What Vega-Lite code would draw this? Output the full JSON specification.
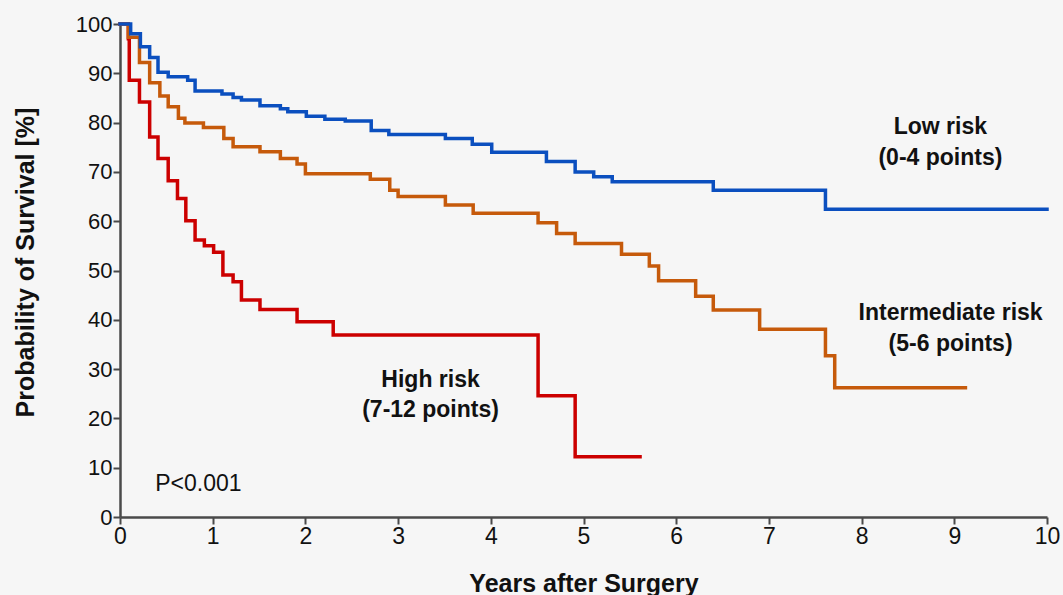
{
  "$schema": "https://vega.github.io/schema/vega-lite/v6.json",
  "width": 927,
  "height": 493,
  "autosize": {"type": "none"},
  "padding": {"left": 120, "top": 24, "right": 16, "bottom": 78},
  "background": "#f6f6f6",
  "config": {
    "view": {"stroke": null},
    "font": "Liberation Sans"
  },
  "datasets": {
    "curves": [
      {"group": "High", "t": 0, "s": 100},
      {"group": "High", "t": 0.09, "s": 97},
      {"group": "High", "t": 0.1, "s": 88.6},
      {"group": "High", "t": 0.21, "s": 84.2},
      {"group": "High", "t": 0.32, "s": 77.1},
      {"group": "High", "t": 0.41, "s": 72.7},
      {"group": "High", "t": 0.52, "s": 68.2},
      {"group": "High", "t": 0.62, "s": 64.6},
      {"group": "High", "t": 0.71, "s": 60.1},
      {"group": "High", "t": 0.81, "s": 56.2},
      {"group": "High", "t": 0.91, "s": 55.0},
      {"group": "High", "t": 1.01, "s": 53.7},
      {"group": "High", "t": 1.11, "s": 49.1},
      {"group": "High", "t": 1.22, "s": 47.7},
      {"group": "High", "t": 1.31, "s": 44.0},
      {"group": "High", "t": 1.51, "s": 42.1},
      {"group": "High", "t": 1.91, "s": 39.6},
      {"group": "High", "t": 2.30, "s": 36.9},
      {"group": "High", "t": 4.51, "s": 24.6},
      {"group": "High", "t": 4.91, "s": 12.2},
      {"group": "High", "t": 5.61, "s": 12.2},
      {"group": "Intermediate", "t": 0, "s": 100},
      {"group": "Intermediate", "t": 0.09, "s": 97.3},
      {"group": "Intermediate", "t": 0.21, "s": 92.2},
      {"group": "Intermediate", "t": 0.32, "s": 88.1},
      {"group": "Intermediate", "t": 0.43, "s": 85.4},
      {"group": "Intermediate", "t": 0.52, "s": 83.2},
      {"group": "Intermediate", "t": 0.63, "s": 80.9},
      {"group": "Intermediate", "t": 0.70, "s": 79.9},
      {"group": "Intermediate", "t": 0.90, "s": 79.0},
      {"group": "Intermediate", "t": 1.12, "s": 76.8},
      {"group": "Intermediate", "t": 1.22, "s": 75.1},
      {"group": "Intermediate", "t": 1.51, "s": 74.1},
      {"group": "Intermediate", "t": 1.73, "s": 72.7},
      {"group": "Intermediate", "t": 1.91, "s": 71.6},
      {"group": "Intermediate", "t": 2.0, "s": 69.6},
      {"group": "Intermediate", "t": 2.70, "s": 68.5},
      {"group": "Intermediate", "t": 2.91, "s": 66.3},
      {"group": "Intermediate", "t": 3.0, "s": 65.0},
      {"group": "Intermediate", "t": 3.51, "s": 63.3},
      {"group": "Intermediate", "t": 3.81, "s": 61.6},
      {"group": "Intermediate", "t": 4.51, "s": 59.7},
      {"group": "Intermediate", "t": 4.71, "s": 57.5},
      {"group": "Intermediate", "t": 4.91, "s": 55.5},
      {"group": "Intermediate", "t": 5.41, "s": 53.3},
      {"group": "Intermediate", "t": 5.71, "s": 50.9},
      {"group": "Intermediate", "t": 5.81, "s": 47.9},
      {"group": "Intermediate", "t": 6.21, "s": 44.8},
      {"group": "Intermediate", "t": 6.40, "s": 42.0},
      {"group": "Intermediate", "t": 6.90, "s": 38.1},
      {"group": "Intermediate", "t": 7.61, "s": 32.7},
      {"group": "Intermediate", "t": 7.71, "s": 26.2},
      {"group": "Intermediate", "t": 9.12, "s": 26.2},
      {"group": "Low", "t": 0, "s": 100},
      {"group": "Low", "t": 0.115, "s": 98.0},
      {"group": "Low", "t": 0.22, "s": 95.4},
      {"group": "Low", "t": 0.32, "s": 93.2},
      {"group": "Low", "t": 0.41, "s": 90.2},
      {"group": "Low", "t": 0.52, "s": 89.3},
      {"group": "Low", "t": 0.73, "s": 88.6},
      {"group": "Low", "t": 0.81, "s": 86.4},
      {"group": "Low", "t": 1.10, "s": 85.8},
      {"group": "Low", "t": 1.22, "s": 85.1},
      {"group": "Low", "t": 1.31, "s": 84.6},
      {"group": "Low", "t": 1.51, "s": 83.4},
      {"group": "Low", "t": 1.73, "s": 82.8},
      {"group": "Low", "t": 1.81, "s": 82.2},
      {"group": "Low", "t": 2.01, "s": 81.3},
      {"group": "Low", "t": 2.21, "s": 80.7},
      {"group": "Low", "t": 2.43, "s": 80.3},
      {"group": "Low", "t": 2.71, "s": 78.4},
      {"group": "Low", "t": 2.90, "s": 77.6},
      {"group": "Low", "t": 3.51, "s": 76.8},
      {"group": "Low", "t": 3.80, "s": 75.6},
      {"group": "Low", "t": 4.01, "s": 74.0},
      {"group": "Low", "t": 4.60, "s": 72.1},
      {"group": "Low", "t": 4.91, "s": 70.0},
      {"group": "Low", "t": 5.11, "s": 69.0},
      {"group": "Low", "t": 5.31, "s": 68.0},
      {"group": "Low", "t": 6.40, "s": 66.3},
      {"group": "Low", "t": 7.61, "s": 62.4},
      {"group": "Low", "t": 10, "s": 62.4}
    ],
    "labels": [
      {"label": "Low risk", "t": 8.85, "s": 79.1},
      {"label": "(0-4 points)", "t": 8.85, "s": 72.8},
      {"label": "Intermediate risk", "t": 8.96, "s": 41.4},
      {"label": "(5-6 points)", "t": 8.96, "s": 35.1},
      {"label": "High risk", "t": 3.35, "s": 27.8},
      {"label": "(7-12 points)", "t": 3.35, "s": 21.7}
    ],
    "pval": [
      {"label": "P<0.001", "t": 0.38, "s": 6.7}
    ]
  },
  "layer": [
    {
      "data": {"name": "curves"},
      "mark": {"type": "line", "interpolate": "step-after", "strokeWidth": 3.5, "strokeCap": "square"},
      "encoding": {
        "x": {
          "field": "t", "type": "quantitative",
          "scale": {"domain": [0, 10], "nice": false, "zero": false},
          "axis": {
            "title": "Years after Surgery",
            "values": [0, 1, 2, 3, 4, 5, 6, 7, 8, 9, 10],
            "format": "d",
            "grid": false,
            "domainColor": "#4a4a4a", "domainWidth": 2.5,
            "tickColor": "#4a4a4a", "tickWidth": 2, "tickSize": 7,
            "labelFontSize": 23, "labelColor": "#111", "labelPadding": 1,
            "labelFlush": false,
            "titleFontSize": 25, "titleFontWeight": "bold", "titleColor": "#111",
            "titleY": 66, "titleBaseline": "middle"
          }
        },
        "y": {
          "field": "s", "type": "quantitative",
          "scale": {"domain": [0, 100], "nice": false},
          "axis": {
            "title": "Probability of Survival [%]",
            "values": [0, 10, 20, 30, 40, 50, 60, 70, 80, 90, 100],
            "format": "d",
            "grid": false,
            "domainColor": "#4a4a4a", "domainWidth": 2.5,
            "tickColor": "#4a4a4a", "tickWidth": 2, "tickSize": 7,
            "labelFontSize": 22, "labelColor": "#111", "labelPadding": 1,
            "labelFlush": false,
            "titleFontSize": 25, "titleFontWeight": "bold", "titleColor": "#111",
            "titleX": -95, "titleY": 238, "titleBaseline": "middle", "titleAnchor": "middle"
          }
        },
        "color": {
          "field": "group", "type": "nominal",
          "scale": {"domain": ["High", "Intermediate", "Low"], "range": ["#cc0000", "#c65a0b", "#0b4fbf"]},
          "legend": null
        },
        "order": {"field": "t", "type": "quantitative"}
      }
    },
    {
      "data": {"name": "labels"},
      "mark": {"type": "text", "fontSize": 23, "fontWeight": "bold", "color": "#111", "align": "center", "baseline": "middle"},
      "encoding": {
        "x": {"field": "t", "type": "quantitative"},
        "y": {"field": "s", "type": "quantitative"},
        "text": {"field": "label"}
      }
    },
    {
      "data": {"name": "pval"},
      "mark": {"type": "text", "fontSize": 23, "color": "#111", "align": "left", "baseline": "middle"},
      "encoding": {
        "x": {"field": "t", "type": "quantitative"},
        "y": {"field": "s", "type": "quantitative"},
        "text": {"field": "label"}
      }
    }
  ]
}
